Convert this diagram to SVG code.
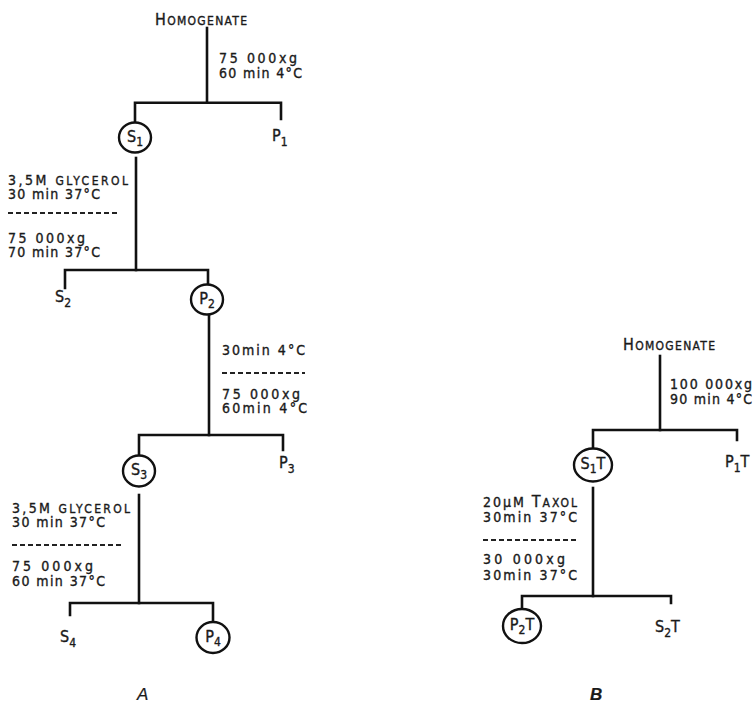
<svg xmlns="http://www.w3.org/2000/svg" width="755" height="706" viewBox="0 0 755 706">
<style>
text{font-family:"DejaVu Sans Condensed","DejaVu Sans",sans-serif;font-size:14px;fill:#1a1a1a;stroke:#1a1a1a;stroke-width:0.35}
.sc{font-size:12px}
.lbl{font-size:16px}
.sub{font-size:12px}
.ln{fill:none;stroke:#111;stroke-width:2.6;stroke-linecap:square}
.ring{fill:#fff;stroke:#111;stroke-width:2.4}
.dash{stroke:#222;stroke-width:2;stroke-dasharray:5 3}
.big{font-family:"Liberation Sans",Arial,sans-serif;font-style:italic;font-size:17px;stroke-width:0.2}
</style>
<rect width="755" height="706" fill="#fff"/>
<g id="connectors">
<path class="ln" d="M207,28 V102.7"/>
<path class="ln" d="M135,122 V102.7 H281 V119"/>
<path class="ln" d="M136,158 V270"/>
<path class="ln" d="M65,288 V270 H208 V284"/>
<path class="ln" d="M209,316 V435"/>
<path class="ln" d="M139,455 V435 H283 V450"/>
<path class="ln" d="M139,495 V603"/>
<path class="ln" d="M70,615 V603 H213 V621"/>
<path class="ln" d="M660,356 V430"/>
<path class="ln" d="M593,448 V430 H737 V440"/>
<path class="ln" d="M593,488 V596"/>
<path class="ln" d="M522,609 V596 H671 V603"/>
</g>
<g id="conditions">
<text x="219" y="63" textLength="78">75 000xg</text>
<text x="219" y="78" textLength="83">60 min 4°C</text>
<text x="8" y="185" textLength="120">3,5M <tspan class="sc">GLYCEROL</tspan></text>
<text x="8" y="199" textLength="92">30 min 37°C</text>
<line class="dash" x1="8" y1="213" x2="118" y2="213"/>
<text x="8" y="243" textLength="77">75 000xg</text>
<text x="8" y="257" textLength="92">70 min 37°C</text>
<text x="222" y="355" textLength="83">30min 4°C</text>
<line class="dash" x1="222" y1="373" x2="305" y2="373"/>
<text x="222" y="399" textLength="78">75 000xg</text>
<text x="222" y="413" textLength="85">60min 4°C</text>
<text x="12" y="513" textLength="118">3,5M <tspan class="sc">GLYCEROL</tspan></text>
<text x="12" y="527" textLength="93">30 min 37°C</text>
<line class="dash" x1="12" y1="545" x2="123" y2="545"/>
<text x="12" y="571" textLength="81">75 000xg</text>
<text x="12" y="586" textLength="93">60 min 37°C</text>
<text x="670" y="389" textLength="82">100 000xg</text>
<text x="670" y="404" textLength="82">90 min 4°C</text>
<text x="483" y="507" textLength="94">20μM <tspan class="lbl">T</tspan><tspan class="sc">AXOL</tspan></text>
<text x="483" y="522" textLength="94">30min 37°C</text>
<line class="dash" x1="483" y1="540" x2="577" y2="540"/>
<text x="483" y="564" textLength="82">30 000xg</text>
<text x="483" y="580" textLength="94">30min 37°C</text>
</g>
<g id="homogenate-a"><text x="155" y="25" textLength="92"><tspan class="lbl">H</tspan><tspan class="sc">OMOGENATE</tspan></text></g>
<g id="s1"><ellipse class="ring" cx="135" cy="137.5" rx="16" ry="15"/><text class="lbl" x="135" y="142" text-anchor="middle">S<tspan class="sub" dy="4">1</tspan></text></g>
<g id="p1"><text class="lbl" x="272" y="141">P<tspan class="sub" dy="5">1</tspan></text></g>
<g id="s2"><text class="lbl" x="55" y="302">S<tspan class="sub" dy="5">2</tspan></text></g>
<g id="p2"><ellipse class="ring" cx="207" cy="299.5" rx="16" ry="15"/><text class="lbl" x="207" y="304" text-anchor="middle">P<tspan class="sub" dy="4">2</tspan></text></g>
<g id="s3"><ellipse class="ring" cx="139" cy="471" rx="16" ry="15.5"/><text class="lbl" x="139" y="475" text-anchor="middle">S<tspan class="sub" dy="4">3</tspan></text></g>
<g id="p3"><text class="lbl" x="279" y="468">P<tspan class="sub" dy="5">3</tspan></text></g>
<g id="s4"><text class="lbl" x="60" y="642">S<tspan class="sub" dy="5">4</tspan></text></g>
<g id="p4"><ellipse class="ring" cx="213" cy="637.5" rx="16.5" ry="15.5"/><text class="lbl" x="213" y="642" text-anchor="middle">P<tspan class="sub" dy="4">4</tspan></text></g>
<g id="label-a"><text class="big" x="137" y="700">A</text></g>
<g id="homogenate-b"><text x="623" y="350" textLength="92"><tspan class="lbl">H</tspan><tspan class="sc">OMOGENATE</tspan></text></g>
<g id="s1t"><ellipse class="ring" cx="593" cy="465" rx="19" ry="16.5"/><text class="lbl" x="593" y="469" text-anchor="middle">S<tspan class="sub" dy="4">1</tspan><tspan dy="-4">T</tspan></text></g>
<g id="p1t"><text class="lbl" x="725" y="467">P<tspan class="sub" dy="5">1</tspan><tspan dy="-5">T</tspan></text></g>
<g id="p2t"><ellipse class="ring" cx="522" cy="626" rx="19" ry="17"/><text class="lbl" x="522" y="630" text-anchor="middle">P<tspan class="sub" dy="4">2</tspan><tspan dy="-4">T</tspan></text></g>
<g id="s2t"><text class="lbl" x="655" y="632">S<tspan class="sub" dy="5">2</tspan><tspan dy="-5">T</tspan></text></g>
<g id="label-b"><text class="big" x="590" y="700" font-weight="bold">B</text></g>
</svg>
